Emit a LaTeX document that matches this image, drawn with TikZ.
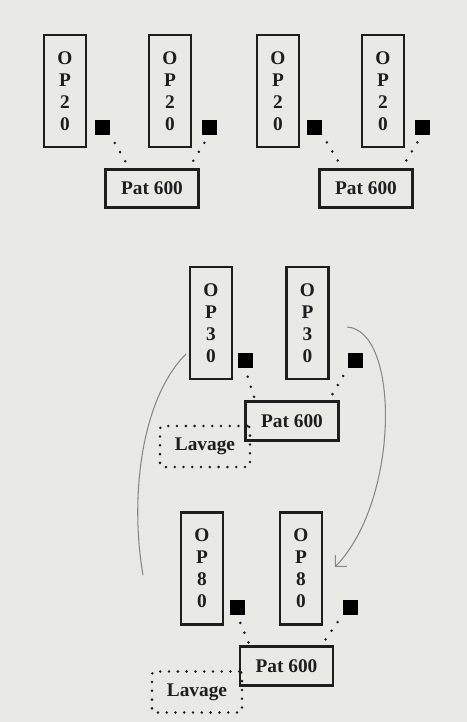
\documentclass[tikz,border=0pt]{standalone}
\usepackage{fontspec}
\setmainfont{Liberation Serif}
\usetikzlibrary{arrows.meta}

\definecolor{papier}{RGB}{233,233,229}
\definecolor{crayon}{RGB}{135,135,135}
\definecolor{encre}{RGB}{30,30,30}

\tikzset{
  poste/.style={draw=encre, text=encre, line width=1.5pt, minimum width=8.4mm,
    minimum height=22.4mm, inner sep=0pt, align=center,
    font=\fontsize{11}{12.5}\selectfont\bfseries},
  carre/.style={fill=black, minimum size=3mm, inner sep=0pt},
  palette/.style={draw=encre, text=encre, line width=1.5pt, minimum width=18.6mm,
    minimum height=7.7mm, inner sep=0pt, font=\fontsize{11}{13}\selectfont\bfseries},
  lavage/.style={draw=encre, text=encre, line width=1.6pt, line cap=round,
    dash pattern=on 0pt off 5pt, rounded corners=1.5pt, minimum width=18mm,
    minimum height=8.2mm, inner sep=0pt, font=\fontsize{11}{13}\selectfont\bfseries},
  pointille/.style={encre, line width=1.6pt, line cap=round,
    dash pattern=on 0pt off 6pt, dash phase=1pt},
  trait/.style={crayon, line width=0.6pt}
}

\begin{document}
\begin{tikzpicture}[x=0.2mm, y=-0.2mm]
    % fond
    \fill[papier] (0,0) rectangle (467,722);
    \useasboundingbox (0,0) rectangle (467,722);

    % OP20 - premier groupe
    \node[poste] (op1) at (65,91) {O\\P\\2\\0};
    \node[carre] (sq1) at (102.5,127.5) {};
    \node[poste] (op2) at (170,91) {O\\P\\2\\0};
    \node[carre] (sq2) at (209,127.5) {};
    \node[palette] (pat1) at (152,188.5) {Pat 600};

    % OP20 - second groupe
    \node[poste] (op3) at (278,91) {O\\P\\2\\0};
    \node[carre] (sq3) at (314.5,127) {};
    \node[poste] (op4) at (383,91) {O\\P\\2\\0};
    \node[carre] (sq4) at (422,127) {};
    \node[palette] (pat2) at (366,188.5) {Pat 600};

    % OP30
    \node[poste] (op5) at (211,323) {O\\P\\3\\0};
    \node[carre] (sq5) at (245,360.5) {};
    \node[poste] (op6) at (307.5,323) {O\\P\\3\\0};
    \node[carre] (sq6) at (355.5,360.5) {};
    \node[palette] (pat3) at (292,421) {Pat 600};
    \node[lavage] (lav1) at (205,446.5) {Lavage};

    % OP80
    \node[poste] (op7) at (202,568.5) {O\\P\\8\\0};
    \node[carre] (sq7) at (237,607) {};
    \node[poste] (op8) at (301,568.5) {O\\P\\8\\0};
    \node[carre] (sq8) at (350.5,607) {};
    \node[palette] (pat4) at (286.5,666) {Pat 600};
    \node[lavage] (lav2) at (197,692) {Lavage};

    % liaisons en pointillés
    \draw[pointille] (sq1.south east) -- ([xshift=5mm]pat1.north west);
    \draw[pointille] (sq2.south) -- ([xshift=-2.2mm]pat1.north east);
    \draw[pointille] (sq3.south east) -- ([xshift=4.8mm]pat2.north west);
    \draw[pointille] (sq4.south) -- ([xshift=-2.4mm]pat2.north east);
    \draw[pointille] (sq5.south) -- ([xshift=2.2mm]pat3.north west);
    \draw[pointille] (sq6.south west) -- ([xshift=-2.2mm]pat3.north east);
    \draw[pointille] (sq7.south) -- ([xshift=2.2mm]pat4.north west);
    \draw[pointille] (sq8.south west) -- ([xshift=-2.6mm]pat4.north east);

    % traits au crayon
    \draw[trait] (186,354) .. controls (140,400) and (130,500) .. (143,575);
    \draw[trait, -{Straight Barb[length=1.6mm]}] (347,327) .. controls (400,330) and (400,500) .. (335,567);
\end{tikzpicture}
\end{document}
